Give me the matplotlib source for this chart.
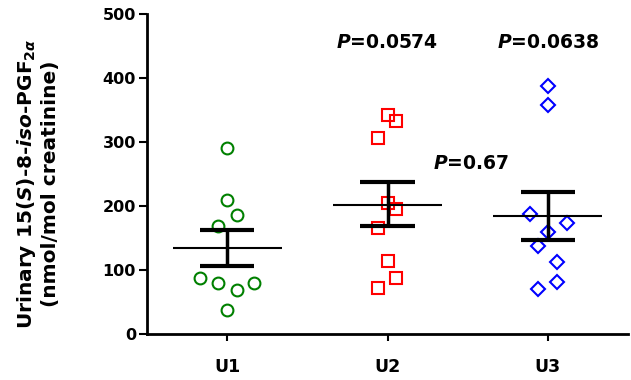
import matplotlib.pyplot as plt
import numpy as np

plt.rcParams['font.family'] = ['DejaVu Sans']
plt.rcParams['mathtext.fontset'] = 'custom'
plt.rcParams['mathtext.rm'] = 'DejaVu Sans:bold'
plt.rcParams['mathtext.bf'] = 'DejaVu Sans:bold'
plt.rcParams['mathtext.it'] = 'DejaVu Sans:bold:italic'

groups = ['U1', 'U2', 'U3']
u1 = [291, 210, 186, 169, 87, 79, 69, 80, 38]
u2 = [342, 333, 306, 204, 195, 166, 114, 87, 72]
u3 = [388, 358, 187, 174, 159, 138, 112, 82, 70]
means = [134, 202, 185]
sem_hi = [163, 238, 222]
sem_lo = [107, 168, 147]
p_labels = ['0.0574', '0.0638', '0.67']

# horizontal spread of the dots (x units)
jit1 = [0, 0, 0.06, -0.06, -0.17, -0.06, 0.06, 0.17, 0]
jit2 = [0, 0.055, -0.06, 0, 0.055, -0.06, 0, 0.055, -0.06]
jit3 = [0, 0, -0.11, 0.12, 0, -0.06, 0.06, 0.06, -0.06]

fig = plt.figure(figsize=(6.31, 3.80), dpi=100)
ax = fig.add_axes([147/631, 46/380, (628-147)/631, 320/380])

styles = [('o', '#008000'), ('s', '#ff0000'), ('D', '#0000ff')]
sizes = [8.5, 8.5, 7.5]
for i, (vals, jit) in enumerate([(u1, jit1), (u2, jit2), (u3, jit3)]):
    x = i + 1 + np.array(jit)
    m, c = styles[i]
    ax.plot(x, vals, linestyle='none', marker=m, markersize=sizes[i],
            markerfacecolor='none', markeredgecolor=c, markeredgewidth=1.5)

for i in range(3):
    xc = i + 1
    ax.hlines(means[i], xc - 0.34, xc + 0.34, color='black', lw=1.5, zorder=3)
    ax.vlines(xc, sem_lo[i], sem_hi[i], color='black', lw=2.5, zorder=3)
    ax.hlines([sem_lo[i], sem_hi[i]], xc - 0.17, xc + 0.17, color='black', lw=3, zorder=3)

pfont = dict(ha='center', va='center', fontsize=13.5, fontweight='bold')
ax.text(2, 455, r'$\mathit{P}$=' + p_labels[0], **pfont)
ax.text(3, 455, r'$\mathit{P}$=' + p_labels[1], **pfont)
ax.text(2.52, 267, r'$\mathit{P}$=' + p_labels[2], **pfont)

ax.set_xlim(0.5, 3.5)
ax.set_ylim(0, 500)
ax.set_xticks([1, 2, 3])
ax.set_xticklabels(groups, fontsize=12.5, fontweight='bold')
ax.set_yticks(range(0, 501, 100))
ax.set_yticklabels([str(v) for v in range(0, 501, 100)], fontsize=11.5, fontweight='bold')
ax.tick_params(axis='x', length=5, width=1.5, pad=12)
ax.tick_params(axis='y', length=6, width=1.5, pad=2)
for s in ['top', 'right']:
    ax.spines[s].set_visible(False)
for s in ['left', 'bottom']:
    ax.spines[s].set_linewidth(2)

ax.set_ylabel('Urinary 15($\\mathit{S}$)-8-$\\mathit{iso}$-PGF$_{2\\alpha}$\n(nmol/mol creatinine)',
              fontsize=14.5, fontweight='bold', linespacing=1.2)
ax.yaxis.set_label_coords(-0.18, 0.47)

fig.savefig('out.png', dpi=100)
